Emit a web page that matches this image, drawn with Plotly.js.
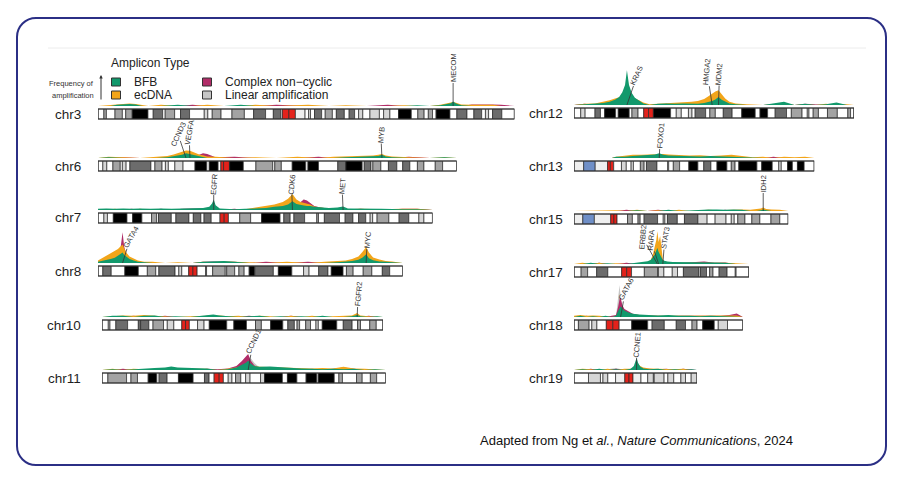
<!DOCTYPE html>
<html><head><meta charset="utf-8">
<script src="https://cdn.plot.ly/plotly-3.0.1.min.js"></script>
<style>
html,body{margin:0;padding:0;background:#fff;}
#wrap{position:relative;width:900px;height:484px;overflow:hidden;}
#frame{position:absolute;left:16px;top:17px;width:867px;height:445px;border:2px solid #2b2f85;border-radius:20px;}
#chart{position:absolute;left:0;top:0;width:900px;height:484px;}
</style></head><body>
<div id="wrap"><div id="frame"></div><div id="chart"></div></div>
<script>
// ---------------- DATA ----------------
const chromosomes = ['chr3','chr6','chr7','chr8','chr10','chr11','chr12','chr13','chr15','chr17','chr18','chr19'];
const chromLength = [198.3,170.8,159.3,145.1,133.8,135.1,133.3,114.4,102.0,83.3,80.4,58.6];
const ampTypes = ['BFB','ecDNA','Complex non\u2212cyclic','Linear amplification'];

// cytobands: start (Mb) and stain (0,25,50,75,100 = gneg..gpos100; -1 acen; -2 gvar; -3 stalk)
const chr3_bandStart = [0,2.8,4.0,8.1,11.6,13.2,16.3,23.8,26.3,30.8,32.0,36.5,39.3,43.6,50.6,52.3,54.4,58.6,63.8,69.7,74.1,79.8,83.5,87.1,87.8,90.9,94.0,98.6,100.3,101.2,103.1,106.5,108.2,111.6,113.5,117.3,119.6,122.2,124.1,126.1,129.5,134.0,136.0,139.0,143.1,149.2,152.3,155.3,157.3,159.3,161.0,167.6,170.9,175.7,179.0,182.7,184.5,186.0,187.9,192.3];
const chr3_bandStain = [0,50,0,50,0,50,100,0,75,0,50,0,75,0,25,0,50,0,50,0,75,0,75,0,-1,-1,-2,0,25,0,75,0,50,0,75,0,75,0,25,0,25,0,25,0,100,0,50,0,50,0,100,0,75,0,75,0,25,0,75,0];
const chr6_bandStart = [0,2.3,4.2,7.1,10.6,11.6,13.4,15.2,25.2,27.1,30.5,32.1,33.5,36.6,40.5,46.2,51.8,53.0,57.2,58.5,59.8,62.6,62.7,69.2,75.2,83.2,84.2,87.3,92.5,98.9,100.0,105.0,114.2,117.9,118.1,125.8,126.8,130.0,130.9,134.7,138.3,142.3,145.1,148.5,152.1,155.2,160.6,164.1];
const chr6_bandStain = [0,25,0,50,0,25,0,75,0,50,0,25,0,25,0,100,0,100,0,-1,-1,0,100,0,50,0,50,0,100,0,100,0,75,0,100,0,75,0,50,0,75,0,75,0,50,0,50,0];
const chr7_bandStart = [0,2.8,4.5,7.3,13.8,16.5,20.9,25.5,27.9,28.8,34.9,37.1,43.3,45.4,49.0,50.5,53.9,58.1,60.1,62.1,67.5,72.7,77.9,86.7,88.5,91.5,93.3,98.4,104.2,105.0,107.8,115.0,117.7,121.4,124.1,127.5,129.6,130.8,132.9,138.5,143.4,148.0,152.8,155.2];
const chr7_bandStain = [0,25,0,100,0,100,0,50,0,75,0,75,0,75,0,75,0,-1,-1,0,50,0,100,0,75,0,75,0,50,0,75,0,75,0,75,0,25,0,50,0,75,0,25,0];
const chr8_bandStart = [0,2.3,6.3,12.8,19.2,23.5,27.5,29.0,36.7,38.5,39.9,43.2,45.2,47.2,51.3,51.7,54.6,60.6,61.3,65.1,67.1,69.6,72.0,74.6,74.7,83.5,85.9,92.3,97.9,100.5,105.1,109.5,111.1,116.7,118.3,121.5,126.3,130.4,135.4,138.9];
const chr8_bandStain = [0,75,0,100,0,50,0,75,0,25,0,-1,-1,0,75,0,50,0,50,0,50,0,100,0,75,0,100,0,25,0,75,0,100,0,50,0,50,0,75,0];
const chr10_bandStart = [0,3.0,3.8,6.6,12.2,17.3,18.4,22.3,24.3,29.3,31.1,34.2,38.0,39.8,41.6,45.5,48.6,51.1,59.4,62.8,68.8,73.1,75.9,80.3,86.1,88.5,91.6,92.9,94.1,97.0,99.3,101.9,103.0,104.9,111.8,114.9,119.1,121.7,123.1,127.5,130.6];
const chr10_bandStain = [0,25,0,75,0,75,75,0,50,0,25,0,-1,-1,0,25,0,100,0,100,0,50,0,100,0,75,0,50,0,50,0,25,0,100,0,75,0,50,0,50,0];
const chr11_bandStart = [0,2.8,11.7,13.8,16.9,22.0,26.1,27.2,31.0,36.4,43.4,48.8,51.0,53.4,55.8,57.8,60.1,61.9,63.6,66.1,68.4,70.5,75.5,77.4,85.9,88.3,92.8,97.2,102.3,103.0,110.6,112.8,114.5,121.2,123.9,127.8,130.8];
const chr11_bandStain = [0,50,0,50,0,100,0,75,0,100,0,75,0,-1,-1,0,25,0,50,0,25,0,25,100,0,100,0,100,0,100,0,50,0,50,0,50,0];
const chr12_bandStart = [0,3.2,5.3,10.0,12.6,14.6,19.8,21.1,26.3,27.6,30.5,33.2,35.5,37.8,46.0,48.7,51.1,54.5,56.2,57.7,62.7,64.7,67.3,71.1,75.3,79.9,86.3,88.6,92.2,95.8,101.2,103.5,108.6,111.1,111.9,113.9,116.4,120.7,125.4,130.4,131.7];
const chr12_bandStain = [0,25,0,75,0,100,0,100,0,50,0,-1,-1,100,0,25,0,25,0,75,0,50,0,75,0,100,0,100,0,75,0,50,0,25,0,50,0,50,0,50,0];
const chr13_bandStart = [0,4.6,10.1,16.0,17.3,18.9,22.6,24.9,27.2,28.3,31.6,33.4,34.5,39.5,44.6,45.1,47.3,50.3,54.7,59.0,61.8,65.2,68.1,72.8,74.9,76.7,78.5,87.1,89.4,94.4,97.5,98.7,101.7,104.0,106.4,109.6];
const chr13_bandStain = [-2,-3,-2,-1,-1,0,25,0,25,0,50,0,75,0,25,0,50,0,100,0,75,0,100,0,50,0,100,0,100,0,25,0,100,0,100,0];
const chr15_bandStart = [0,4.2,9.7,17.5,19.0,20.5,25.5,27.8,30.5,31.5,33.4,39.8,42.5,43.3,44.5,49.2,52.6,59.0,63.4,67.2,72.4,74.9,76.3,78.0,81.4,84.7,88.5,93.8,98.0];
const chr15_bandStain = [-2,-3,-2,-1,-1,0,50,0,50,0,75,0,25,0,75,0,75,25,0,25,0,25,0,50,0,50,0,50,0];
const chr17_bandStart = [0,3.4,6.5,10.8,16.1,22.7,25.1,27.4,33.5,39.8,40.2,42.8,46.8,49.3,52.1,59.5,60.2,63.1,64.6,66.2,69.1,72.9,76.8,77.2];
const chr17_bandStain = [0,50,0,75,0,-1,-1,0,50,0,25,0,25,0,75,0,75,0,50,0,75,0,25,0];
const chr18_bandStart = [0,2.1,7.2,8.5,10.9,15.4,18.5,21.5,27.5,35.1,37.2,43.0,48.7,53.1,56.2,58.6,61.3,66.8,68.7,73.1];
const chr18_bandStain = [0,50,0,25,0,-1,-1,0,100,0,75,0,75,0,50,0,100,0,25,0];
const chr19_bandStart = [0,6.9,12.6,13.8,16.1,19.8,24.2,26.2,28.1,31.9,35.1,37.8,38.2,42.9,44.7,47.5,50.9,53.1,55.8];
const chr19_bandStain = [0,25,0,25,0,-2,-1,-1,-2,0,25,0,25,0,25,0,25,0,25];

// frequency of amplification (%), per amplicon type
const chr3_pos = [0,6,9,12,15,18,21,24,30,38,45,52,60,68,75,85,100,110,118,128,138,146,152,158,163,166,168,169.1,170.5,173,178,184,188,192,198.3];
const chr3_bfb = [0,0,0.3,0.4,0.5,0.4,0,0,0,0.3,0,0,0,0.3,0,0,0,0,0,0,0,0,0.2,0,0.2,0.4,0.7,1.1,0.6,0.2,0,0,0,0,0];
const chr3_ecdna = [0,0.3,0.4,0.5,0.6,0.5,0.3,0,0.3,0,0,0.3,0,0,0.3,0,0.3,0,0.2,0,0,0.2,0,0,0.3,0.6,0.9,1.0,0.8,0.4,0.3,0.2,0.3,0,0];
const chr3_cnc = [0,0,0,0,0,0.3,0,0,0,0,0.3,0,0,0,0,0.3,0,0,0,0,0.3,0,0,0,0,0,0,0.3,0.2,0,0.4,0.5,0.4,0.3,0];
const chr3_lin = [0,0,0,0,0,0,0,0,0,0,0,0,0,0,0,0,0,0,0,0,0,0,0,0,0,0,0.2,0.3,0.2,0,0,0,0,0,0];

const chr6_pos = [0,5,12,20,28,33,36,38,40,41.9,43.8,45.5,47,48.5,50,52,56,65,75,85,95,105,112,118,124,128,131,133.5,135.2,137,140,148,158,165,170.8];
const chr6_bfb = [0,0.2,0,0,0,0.2,0.4,0.6,0.8,1.2,1.0,0.7,0.5,0.4,0.2,0,0,0,0,0,0,0,0,0.2,0.3,0.3,0.4,0.5,0.8,0.4,0.2,0,0,0.2,0];
const chr6_ecdna = [0,0.3,0.2,0,0.3,0.5,0.9,1.3,1.7,1.9,1.8,1.4,1.0,0.8,0.7,0.4,0.3,0,0.2,0,0.3,0,0.3,0.4,0.5,0.5,0.6,0.8,1.0,0.6,0.4,0.2,0,0.2,0];
const chr6_cnc = [0,0,0.2,0,0,0,0,0.3,0.4,0.5,0.5,0.6,0.6,0.9,1.2,1.0,0.2,0.3,0,0,0,0.3,0,0,0,0,0.2,0,0,0,0,0.3,0,0,0];
const chr6_lin = [0,0,0,0,0,0,0,0,0,0,0,0,0.3,0,0,0,0,0,0,0,0,0,0,0,0,0,0,0,0,0,0,0,0,0,0];

const chr7_pos = [0,4,8,12,16,20,25,30,35,40,45,50,53,54.3,55.1,56,58,65,70,75,80,84,88,90.5,92.6,94.5,96.5,98,99.5,101,103,106,110,114,116.7,119,125,135,145,152,159.3];
const chr7_bfb = [0.3,0.4,0.3,0.4,0.3,0.4,0.3,0.4,0.3,0.4,0.4,0.5,0.8,1.6,2.6,1.2,0.4,0.2,0.3,0.4,0.5,0.8,1.0,1.4,2.2,1.5,1.2,1.1,1.0,1.0,0.8,0.6,0.5,0.6,0.9,0.4,0.3,0.3,0.2,0.2,0];
const chr7_ecdna = [0,0,0.3,0,0,0.3,0,0,0.2,0,0,0.3,0.5,0.8,1.0,0.6,0.2,0,0.2,0.6,1.0,1.4,2.0,2.8,4.0,2.6,2.0,1.8,1.6,1.4,0.9,0.6,0.4,0.3,0.5,0.2,0.3,0.2,0.3,0.3,0];
const chr7_cnc = [0,0.2,0,0,0.3,0,0,0.3,0,0.3,0.4,0.5,0.5,0.4,0.3,0.3,0,0.3,0,0.3,0.3,0.5,0.6,0.7,0.9,1.2,2.0,2.6,2.4,1.8,1.0,0.6,0.3,0.3,0.3,0,0.3,0,0.3,0.3,0];
const chr7_lin = [0,0,0,0,0,0,0,0,0,0,0,0,0,0,0,0,0,0,0,0,0,0,0,0,0.5,0.6,1.5,2.7,1.8,0.8,0.3,0,0,0,0,0,0,0,0,0,0];

const chr8_pos = [0,2,4,6,8,9.5,10.8,11.7,12.5,13.5,15,17,19,22,26,32,38,45,50,55,60,65,72,80,90,100,108,114,118,121,124,126,127.7,129,131,134,137,140,145.1];
const chr8_bfb = [0.3,0.5,0.7,1.0,1.3,1.8,2.2,2.6,2.0,1.5,1.0,0.6,0.3,0.2,0,0,0,0,0.3,0.4,0.5,0.3,0,0,0,0,0,0.2,0.3,0.5,0.8,1.4,2.2,1.2,0.7,0.4,0.3,0.2,0];
const chr8_ecdna = [0.6,1.2,1.8,2.4,3.0,3.5,4.2,4.6,3.6,2.6,1.6,1.0,0.6,0.3,0.3,0,0.2,0,0.3,0.2,0.4,0.3,0.2,0,0.3,0,0.3,0.4,0.6,1.0,1.6,2.8,4.0,2.6,1.4,0.9,0.5,0.4,0];
const chr8_cnc = [0,0.2,0.4,0.6,1.0,2.0,4.0,7.7,4.0,2.2,1.0,0.5,0.3,0,0,0,0,0,0.3,0.4,0.3,0.3,0,0.3,0,0.3,0,0.3,0.3,0.3,0.4,0.5,0.6,0.4,0.3,0.3,0.2,0,0];
const chr8_lin = [0,0,0,0,0.3,1.2,2.4,3.6,1.6,0.6,0.2,0,0,0,0,0,0,0,0,0,0,0,0,0,0,0,0,0,0,0,0,0,0,0,0,0,0,0,0];

const chr10_pos = [0,5,10,15,20,25,30,35,42,47,50,53,56,60,65,70,75,80,85,90,95,100,105,110,115,119,121.5,123,127,131,133.8];
const chr10_bfb = [0,0.3,0.3,0,0.3,0.4,0,0.2,0,0.3,0.5,0.6,0.4,0.3,0,0.2,0.3,0,0.2,0,0.2,0,0.3,0,0,0.2,0.5,0.2,0,0.2,0];
const chr10_ecdna = [0,0.2,0.4,0.3,0.5,0.3,0.2,0,0.2,0.3,0.4,0.5,0.4,0.2,0.3,0,0.3,0.2,0,0.3,0,0.3,0,0.2,0.3,0.4,1.0,0.4,0.2,0,0];
const chr10_cnc = [0,0,0,0.3,0,0,0.3,0,0,0,0.3,0.3,0.2,0,0,0.3,0,0,0,0.3,0,0,0,0,0,0,0.2,0,0.3,0,0];
const chr10_lin = [0,0,0,0,0,0,0,0,0,0,0,0,0,0,0,0,0,0,0,0,0,0,0,0,0,0,0,0,0,0,0];

const chr11_pos = [0,5,10,15,20,25,30,33,36,40,45,50,55,60,64,66.5,68.5,69.6,70.8,72.5,75,80,85,90,95,100,105,110,115,120,125,130,135.1];
const chr11_bfb = [0,0.2,0,0.2,0.4,0.5,0.6,0.9,0.6,0.5,0.5,0.4,0,0.2,0.6,1.2,1.8,2.3,1.6,1.0,0.8,0.9,0.7,0.5,0.4,0.3,0.2,0.3,0.2,0.3,0,0.2,0];
const chr11_ecdna = [0,0.3,0,0.3,0.2,0.3,0.3,0.4,0.3,0.3,0.2,0.3,0,0.3,0.6,1.0,1.4,1.6,1.3,1.0,0.8,0.7,0.7,0.6,0.5,0.4,0.5,0.4,0.8,0.4,0.3,0.2,0];
const chr11_cnc = [0,0,0.3,0,0,0.3,0,0.2,0,0,0,0.3,0.2,0.4,1.0,2.2,3.2,4.0,2.4,1.2,0.5,0.3,0.2,0.3,0,0.3,0,0.3,0.6,0.3,0,0,0];
const chr11_lin = [0,0,0,0,0,0,0,0,0,0,0,0,0,0,0,0.5,1.0,1.8,3.0,1.8,0.6,0,0,0,0,0,0,0,0,0,0,0,0];

const chr12_pos = [0,5,10,14,17,19.5,21.5,23,24.3,25.2,26.2,27.5,29,31,33,36,40,44,48,52,56,59,62,64,65.8,67.3,68.8,70.3,72,74,77,82,90,100,105,110,115,120,125,130,133.3];
const chr12_bfb = [0,0.2,0.3,0.5,0.8,1.3,2.0,3.2,5.0,8.7,5.0,3.0,1.8,1.0,0.4,0,0.3,0.4,0.3,0.4,0.3,0.3,0.5,0.7,1.0,1.4,2.0,1.3,0.8,0.4,0.2,0,0,0.8,0,0.3,0,0.2,0.6,0,0];
const chr12_ecdna = [0,0.3,0.4,0.8,1.2,1.6,2.0,2.2,2.4,2.5,2.3,2.0,1.6,1.2,0.6,0.2,0.3,0.4,0.5,0.6,0.8,1.0,1.5,2.2,2.9,3.4,3.7,2.8,1.6,0.8,0.4,0.2,0,0.3,0,0.2,0,0.3,0,0.2,0];
const chr12_cnc = [0,0.3,0,0,0.2,0,0,0,0,0,0,0,0,0,0,0,0,0.3,0,0,0.2,0,0.3,0.4,0.5,0.6,0.5,0.4,0.2,0,0,0,0,0.3,0,0.3,0.2,0,0.3,0,0];
const chr12_lin = [0,0,0,0,0,0,0,0,0,0,0,0,0,0,0,0,0,0,0,0,0,0,0,0,0,0,0,0,0,0,0,0,0,0,0,0,0,0,0,0,0];

const chr13_pos = [0,18,20,24,28,32,36,38.5,40.6,42.5,45,50,55,60,65,70,75,80,85,90,95,100,105,110,114.4];
const chr13_bfb = [0,0,0.3,0.3,0.5,0.6,0.7,0.9,1.2,0.8,0.6,0.5,0.5,0.4,0.5,0.4,0.3,0.2,0,0,0,0,0,0,0];
const chr13_ecdna = [0,0,0.3,0.6,0.8,0.8,0.9,1.0,1.1,1.0,0.9,0.8,0.6,0.7,0.5,0.6,0.8,0.5,0.2,0.3,0,0.3,0.2,0.3,0];
const chr13_cnc = [0,0,0.2,0.3,0.5,0.4,0.2,0,0,0.2,0,0,0.3,0,0.2,0,0.4,0.2,0,0,0.3,0,0,0,0];
const chr13_lin = [0,0,0,0,0,0,0,0,0,0,0,0,0,0,0,0,0,0,0,0,0,0,0,0,0];

const chr15_pos = [0,20,25,30,35,40,45,50,55,60,64,68,72,76,80,84,87,89,90.1,91.5,94,98,102];
const chr15_bfb = [0,0,0,0.2,0,0,0.3,0,0.2,0.3,0.4,0.4,0.3,0.4,0.3,0,0,0.2,0.4,0.2,0,0,0];
const chr15_ecdna = [0,0.2,0,0.3,0,0.2,0,0.3,0,0.2,0.3,0.2,0.3,0.3,0.4,0.3,0.4,0.6,0.9,0.5,0.4,0.3,0];
const chr15_cnc = [0,0,0.3,0,0,0.3,0,0,0,0,0.2,0,0.3,0,0,0,0,0,0.2,0,0,0,0];
const chr15_lin = [0,0,0,0,0,0,0,0,0,0,0,0,0,0,0,0,0,0,0,0,0,0,0];

const chr17_pos = [0,4,8,12,16,20,25,30,33,35,36.5,37.5,38.5,39.2,39.7,40.3,41,41.7,42.3,43,44.5,47,52,57,62,67,72,77,83.3];
const chr17_bfb = [0,0,0.3,0,0.2,0,0,0.3,0.5,0.7,1.0,1.6,2.4,3.4,4.0,3.0,2.2,1.4,1.0,0.8,0.6,0.5,0.5,0.4,0.5,0.4,0.3,0,0];
const chr17_ecdna = [0,0.3,0,0.3,0,0.2,0,0,0.2,0.5,1.0,2.2,4.5,6.0,8.2,5.5,7.0,3.0,1.2,0.6,0.4,0.3,0.3,0.4,0.3,0.4,0.3,0.2,0];
const chr17_cnc = [0,0,0,0.3,0,0,0.3,0,0.3,0.3,0.4,0.5,0.5,0.6,0.6,0.5,0.4,0.3,0.3,0.3,0.3,0.4,0.3,0.5,0.6,0.3,0.4,0,0];
const chr17_lin = [0,0,0,0,0,0,0,0,0,0,0,0,0,0,0,0,0,0,0,0,0,0,0,0,0,0,0,0,0];

const chr18_pos = [0,3,6,9,12,15,18,20,21,21.7,22.2,23,24,26,28,31,35,40,45,50,55,60,65,70,74,77.5,80.4];
const chr18_bfb = [0,0.3,0,0.2,0,0.3,0,0.3,1.5,2.3,2.6,2.2,1.6,1.1,0.8,0.6,0.5,0.4,0.5,0.3,0.3,0.2,0.3,0.2,0.3,0.2,0];
const chr18_ecdna = [0.3,0.5,0.3,0.4,0.3,0.2,0,0.2,0.6,1.2,1.6,1.2,0.9,0.7,0.6,0.5,0.4,0.3,0.3,0.4,0.3,0.3,0.4,0.3,0.3,0.4,0];
const chr18_cnc = [0,0,0.3,0,0,0,0.3,0.5,2.5,4.5,4.8,3.0,2.0,1.3,0.8,0.5,0.3,0.3,0.2,0.3,0.3,0.4,0.3,0.3,0.5,0.9,0];
const chr18_lin = [0,0,0,0,0,0,0,0.2,4.0,8.0,5.0,2.0,1.0,0.5,0.3,0,0,0,0,0,0,0,0,0,0,0,0];

const chr19_pos = [0,4,8,12,16,20,24,27,28.5,29.3,29.8,30.5,31.5,33,36,40,44,48,52,56,58.6];
const chr19_bfb = [0,0.2,0,0.3,0,0.2,0,0.3,1.0,2.4,3.0,1.8,0.9,0.4,0.2,0.3,0,0.2,0,0.2,0];
const chr19_ecdna = [0,0.3,0.2,0,0.3,0,0.3,0.3,0.6,1.0,1.3,1.5,1.0,0.6,0.4,0.3,0.3,0.2,0.3,0,0];
const chr19_cnc = [0,0,0.3,0,0,0.3,0,0,0.3,0.5,0.4,0.5,0.6,0.4,0.3,0.2,0.3,0,0.3,0.2,0];
const chr19_lin = [0,0,0,0,0.2,0.5,0,0,0,0,0,0,0,0,0,0,0,0,0,0,0];

// annotated genes (Mb)
const chr3_genes = ['MECOM'];            const chr3_genePos = [169.1];
const chr6_genes = ['CCND3','VEGFA','MYB']; const chr6_genePos = [41.9,43.8,135.2];
const chr7_genes = ['EGFR','CDK6','MET'];  const chr7_genePos = [55.1,92.6,116.7];
const chr8_genes = ['GATA4','MYC'];        const chr8_genePos = [11.7,127.7];
const chr10_genes = ['FGFR2'];             const chr10_genePos = [121.5];
const chr11_genes = ['CCND1'];             const chr11_genePos = [69.6];
const chr12_genes = ['KRAS','HMGA2','MDM2']; const chr12_genePos = [25.2,65.8,68.8];
const chr13_genes = ['FOXO1'];             const chr13_genePos = [40.6];
const chr15_genes = ['IDH2'];              const chr15_genePos = [90.1];
const chr17_genes = ['ERBB2','RARA','STAT3']; const chr17_genePos = [39.7,40.3,42.3];
const chr18_genes = ['GATA6'];             const chr18_genePos = [22.2];
const chr19_genes = ['CCNE1'];             const chr19_genePos = [29.8];

// ---------------- LAYOUT / STYLE ----------------
const W = 900, H = 484, PX_PER_MB = 2.1;
const panelX0 = [98,98,98,98,102,102,574,574,574,574,574,574];
const panelCY = [114,166,218,271,325,378,113,166,219,272,325,378];
const labelRight = [83,83,83,83,83,83,565,565,565,565,565,565];
const labelOffset = { // ax, ay (px), text angle
  MECOM:[0,-38,-90], CCND3:[-8,-24,-65], VEGFA:[-1,-26,-80], MYB:[-1,-23,-85],
  EGFR:[0,-26,-85], CDK6:[-1,-26,-85], MET:[-1,-24,-85], GATA4:[8,-26,-60], MYC:[1,-23,-85],
  FGFR2:[1,-23,-85], CCND1:[5,-29,-65], KRAS:[10,-29,-65], HMGA2:[-5,-33,-85], MDM2:[1,-31,-85],
  FOXO1:[1,-22,-85], IDH2:[0,-27,-90], ERBB2:[-15,-27,-85], RARA:[-8,-24,-85], STAT3:[2,-26,-80],
  GATA6:[5,-28,-62], CCNE1:[0,-25,-85]
};
const stainColor = {'0':'#ffffff','25':'#d6d6d6','50':'#a3a3a3','75':'#6c6c6c','100':'#000000','-1':'#e3221b','-2':'#efefef','-3':'#6f8fc7'};
const typeColor = ['#12996c','#f2a51a','#b12d68','#c6c6c6'];
const FONT = 'Liberation Sans, Arial, Helvetica, sans-serif';

const chromData = {
  chr3:[chr3_bandStart,chr3_bandStain,chr3_pos,chr3_bfb,chr3_ecdna,chr3_cnc,chr3_lin,chr3_genes,chr3_genePos],
  chr6:[chr6_bandStart,chr6_bandStain,chr6_pos,chr6_bfb,chr6_ecdna,chr6_cnc,chr6_lin,chr6_genes,chr6_genePos],
  chr7:[chr7_bandStart,chr7_bandStain,chr7_pos,chr7_bfb,chr7_ecdna,chr7_cnc,chr7_lin,chr7_genes,chr7_genePos],
  chr8:[chr8_bandStart,chr8_bandStain,chr8_pos,chr8_bfb,chr8_ecdna,chr8_cnc,chr8_lin,chr8_genes,chr8_genePos],
  chr10:[chr10_bandStart,chr10_bandStain,chr10_pos,chr10_bfb,chr10_ecdna,chr10_cnc,chr10_lin,chr10_genes,chr10_genePos],
  chr11:[chr11_bandStart,chr11_bandStain,chr11_pos,chr11_bfb,chr11_ecdna,chr11_cnc,chr11_lin,chr11_genes,chr11_genePos],
  chr12:[chr12_bandStart,chr12_bandStain,chr12_pos,chr12_bfb,chr12_ecdna,chr12_cnc,chr12_lin,chr12_genes,chr12_genePos],
  chr13:[chr13_bandStart,chr13_bandStain,chr13_pos,chr13_bfb,chr13_ecdna,chr13_cnc,chr13_lin,chr13_genes,chr13_genePos],
  chr15:[chr15_bandStart,chr15_bandStain,chr15_pos,chr15_bfb,chr15_ecdna,chr15_cnc,chr15_lin,chr15_genes,chr15_genePos],
  chr17:[chr17_bandStart,chr17_bandStain,chr17_pos,chr17_bfb,chr17_ecdna,chr17_cnc,chr17_lin,chr17_genes,chr17_genePos],
  chr18:[chr18_bandStart,chr18_bandStain,chr18_pos,chr18_bfb,chr18_ecdna,chr18_cnc,chr18_lin,chr18_genes,chr18_genePos],
  chr19:[chr19_bandStart,chr19_bandStain,chr19_pos,chr19_bfb,chr19_ecdna,chr19_cnc,chr19_lin,chr19_genes,chr19_genePos]
};

const traces = [];
const layout = {
  width: W, height: H, margin:{l:0,r:0,t:0,b:0},
  paper_bgcolor:'rgba(0,0,0,0)', plot_bgcolor:'rgba(0,0,0,0)',
  showlegend:false, barmode:'overlay', font:{family:FONT},
  shapes:[], annotations:[]
};

chromosomes.forEach((name, i) => {
  const [bStart,bStain,pos,bfb,ecdna,cnc,lin,genes,genePos] = chromData[name];
  const len = chromLength[i];
  const sfx = i === 0 ? '' : String(i+1);
  const xa = 'x'+sfx, ya = 'y'+sfx;
  const x0 = panelX0[i], cy = panelCY[i];
  layout['xaxis'+sfx] = {domain:[x0/W,(x0+len*PX_PER_MB)/W], range:[0,len], visible:false, fixedrange:true, anchor:ya};
  layout['yaxis'+sfx] = {domain:[1-(cy+6)/H,1-(cy-48)/H], range:[-3.5,10], type:'linear', visible:false, fixedrange:true, anchor:xa};

  // frequency areas (back to front: linear, complex, ecDNA, BFB)
  [[lin,3],[cnc,2],[ecdna,1],[bfb,0]].forEach(([vals,t]) => {
    traces.push({type:'scatter', mode:'lines', x:pos, y:vals, xaxis:xa, yaxis:ya,
      fill:'tozeroy', fillcolor:typeColor[t], line:{width:0, color:typeColor[t]},
      opacity:0.92, hoverinfo:'skip', name:ampTypes[t]});
  });

  // ideogram bands
  const ends = bStart.map((s,k) => k < bStart.length-1 ? bStart[k+1] : len);
  traces.push({type:'bar', orientation:'h', base:bStart, x:bStart.map((s,k)=>ends[k]-s),
    y:bStart.map(()=>-2), width:2.5, xaxis:xa, yaxis:ya, hoverinfo:'skip',
    marker:{color:bStain.map(s=>stainColor[String(s)]), line:{color:'#2a2a2a', width:0.7}}});
  layout.shapes.push({type:'rect', xref:xa, yref:ya, x0:0, x1:len, y0:-3.25, y1:-0.75,
    line:{color:'#333', width:1.2}, fillcolor:'rgba(0,0,0,0)'});

  // chromosome label
  layout.annotations.push({xref:'paper', yref:'paper', x:labelRight[i]/W, y:1-cy/H, xanchor:'right', yanchor:'middle',
    text:name, showarrow:false, font:{size:13.5, color:'#1e1e1e', family:FONT}});

  // gene labels
  genes.forEach((g,k) => {
    const o = labelOffset[g];
    layout.annotations.push({xref:xa, yref:ya, x:genePos[k], y:0, ax:o[0], ay:o[1], text:g, textangle:o[2],
      showarrow:true, arrowhead:0, arrowwidth:0.8, arrowcolor:'#333', standoff:0, borderpad:0,
      font:{size:7.5, color:'#333', family:FONT}});
  });
});

// legend (drawn manually)
layout.annotations.push({xref:'paper', yref:'paper', x:109/W, y:1-63/H, xanchor:'left', yanchor:'middle',
  text:'Amplicon Type', showarrow:false, font:{size:12, color:'#222', family:FONT}});
const legendPos = [[116,82],[116,95],[207,82],[207,95]];
ampTypes.forEach((t,k) => {
  const [lx,ly] = legendPos[k];
  layout.shapes.push({type:'rect', xref:'paper', yref:'paper', x0:(lx-4.5)/W, x1:(lx+4.5)/W, y0:1-(ly+4)/H, y1:1-(ly-4)/H,
    fillcolor:typeColor[k], line:{color:'#333', width:1}});
  layout.annotations.push({xref:'paper', yref:'paper', x:(lx+16)/W, y:1-ly/H, xanchor:'left', yanchor:'middle',
    text:t, showarrow:false, font:{size:12, color:'#222', family:FONT}});
});
layout.annotations.push({xref:'paper', yref:'paper', x:96/W, y:1-83/H, xanchor:'right', yanchor:'middle',
  text:'Frequency of', showarrow:false, font:{size:7.5, color:'#333', family:FONT}});
layout.annotations.push({xref:'paper', yref:'paper', x:96/W, y:1-95/H, xanchor:'right', yanchor:'middle',
  text:'amplification', showarrow:false, font:{size:7.5, color:'#333', family:FONT}});
layout.annotations.push({xref:'paper', yref:'paper', x:101/W, y:1-75/H, ax:0, ay:26, text:'',
  showarrow:true, arrowhead:2, arrowsize:0.7, arrowwidth:1, arrowcolor:'#333'});

// faint top edge of the original figure
layout.shapes.push({type:'line', xref:'paper', yref:'paper', x0:48/W, x1:866/W, y0:1-48/H, y1:1-48/H,
  line:{color:'#ececec', width:1}});

// caption
layout.annotations.push({xref:'paper', yref:'paper', x:478/W, y:1-440/H, xanchor:'left', yanchor:'middle',
  text:'Adapted from Ng et <i>al.</i>, <i>Nature Communications</i>, 2024', showarrow:false,
  font:{size:13, color:'#111', family:FONT}});

Plotly.newPlot('chart', traces, layout, {staticPlot:true, displayModeBar:false});
</script>
</body></html>
